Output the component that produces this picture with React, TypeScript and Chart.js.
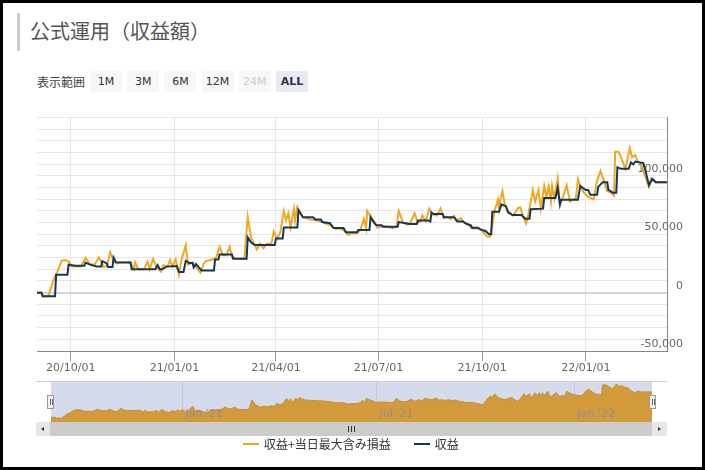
import React, { useEffect, useRef } from 'react';
import { Chart, registerables } from 'chart.js';

Chart.register(...registerables);

// ---- data ----
const seriesNames = ['収益+当日最大含み損益', '収益'];

const profitDates = [
  '2020-09-01', '2020-09-05', '2020-09-06', '2020-09-17', '2020-09-18', '2020-09-28', '2020-09-29', '2020-10-05',
  '2020-10-13', '2020-10-14', '2020-10-18', '2020-10-24', '2020-10-28', '2020-10-29', '2020-11-02', '2020-11-03',
  '2020-11-07', '2020-11-08', '2020-11-10', '2020-11-23', '2020-11-24', '2020-12-15', '2020-12-17', '2020-12-19',
  '2020-12-21', '2020-12-25', '2021-01-03', '2021-01-05', '2021-01-09', '2021-01-11', '2021-01-14', '2021-01-17',
  '2021-01-18', '2021-01-20', '2021-01-22', '2021-01-25', '2021-02-05', '2021-02-06', '2021-02-09', '2021-02-10',
  '2021-02-21', '2021-02-22', '2021-03-06', '2021-03-07', '2021-03-10', '2021-03-13', '2021-03-16', '2021-03-31',
  '2021-04-01', '2021-04-07', '2021-04-08', '2021-04-20', '2021-04-21', '2021-04-25', '2021-05-04', '2021-05-06',
  '2021-05-11', '2021-05-12', '2021-05-19', '2021-05-22', '2021-05-31', '2021-06-02', '2021-06-12', '2021-06-13',
  '2021-06-23', '2021-06-24', '2021-06-27', '2021-06-29', '2021-07-04', '2021-07-05', '2021-07-18', '2021-07-19',
  '2021-07-29', '2021-08-04', '2021-08-05', '2021-08-14', '2021-08-16', '2021-08-17', '2021-08-19', '2021-08-27',
  '2021-08-28', '2021-09-06', '2021-09-07', '2021-09-09', '2021-09-14', '2021-09-17', '2021-09-21', '2021-09-22',
  '2021-09-27', '2021-09-30', '2021-10-04', '2021-10-07', '2021-10-09', '2021-10-10', '2021-10-16', '2021-10-18',
  '2021-10-22', '2021-10-24', '2021-10-28', '2021-11-05', '2021-11-08', '2021-11-12', '2021-11-13', '2021-11-24',
  '2021-11-25', '2021-12-05', '2021-12-07', '2021-12-09', '2021-12-10', '2021-12-25', '2021-12-27', '2022-01-01',
  '2022-01-03', '2022-01-05', '2022-01-11', '2022-01-12', '2022-01-16', '2022-01-20', '2022-01-21', '2022-01-25',
  '2022-01-28', '2022-01-29', '2022-02-01', '2022-02-08', '2022-02-10', '2022-02-12', '2022-02-14', '2022-02-21',
  '2022-02-23', '2022-02-26', '2022-03-01', '2022-03-04', '2022-03-14',
];
const profitValues = [
  0, 0, -3000, -3000, 15400, 15400, 24000, 23000,
  23000, 25800, 24000, 22500, 22500, 27000, 25000, 22000,
  22000, 30000, 26000, 25800, 20000, 20000, 23600, 20000,
  20000, 22300, 22800, 17600, 17600, 27200, 25500, 25500,
  21700, 24500, 22300, 19000, 19000, 28300, 28300, 32600,
  32600, 29000, 29000, 47400, 43000, 41000, 40800, 40800,
  46300, 46300, 55900, 55900, 70600, 64600, 64600, 62700,
  62700, 60500, 59500, 55300, 55300, 51800, 51800, 53700,
  53700, 64600, 60000, 57800, 57800, 56400, 56400, 60500,
  58900, 58900, 61900, 61900, 61000, 68700, 67400, 67400,
  64600, 64600, 63500, 61000, 61000, 59000, 57800, 55600,
  55600, 54000, 52900, 50100, 50100, 69300, 69300, 75600,
  74000, 68700, 66500, 66500, 63300, 63300, 71500, 72000,
  81000, 81000, 89800, 75600, 79700, 79700, 91400, 88000,
  88000, 83800, 83800, 90600, 94700, 94700, 88000, 85700,
  85700, 107500, 106100, 106100, 111600, 110000, 112400, 111000,
  104000, 92000, 97400, 94700, 94700,
];

const totalDates = [
  '2020-09-01', '2020-09-05', '2020-09-06', '2020-09-11', '2020-09-16', '2020-09-19', '2020-09-23', '2020-09-26',
  '2020-09-29', '2020-10-02', '2020-10-10', '2020-10-14', '2020-10-18', '2020-10-22', '2020-10-26', '2020-10-30',
  '2020-11-02', '2020-11-05', '2020-11-08', '2020-11-11', '2020-11-16', '2020-11-23', '2020-11-26', '2020-11-27',
  '2020-11-30', '2020-12-05', '2020-12-08', '2020-12-10', '2020-12-13', '2020-12-16', '2020-12-20', '2020-12-22',
  '2020-12-26', '2020-12-28', '2020-12-30', '2021-01-02', '2021-01-05', '2021-01-07', '2021-01-11', '2021-01-13',
  '2021-01-17', '2021-01-20', '2021-01-24', '2021-01-27', '2021-01-29', '2021-02-02', '2021-02-05', '2021-02-07',
  '2021-02-10', '2021-02-13', '2021-02-16', '2021-02-19', '2021-02-21', '2021-02-25', '2021-03-04', '2021-03-07',
  '2021-03-10', '2021-03-13', '2021-03-15', '2021-03-18', '2021-03-21', '2021-03-24', '2021-03-28', '2021-03-30',
  '2021-04-02', '2021-04-05', '2021-04-08', '2021-04-10', '2021-04-12', '2021-04-14', '2021-04-17', '2021-04-18',
  '2021-04-20', '2021-04-23', '2021-04-25', '2021-04-30', '2021-05-06', '2021-05-11', '2021-05-15', '2021-05-19',
  '2021-05-24', '2021-05-28', '2021-06-01', '2021-06-04', '2021-06-08', '2021-06-12', '2021-06-15', '2021-06-18',
  '2021-06-20', '2021-06-21', '2021-06-25', '2021-06-28', '2021-06-30', '2021-07-05', '2021-07-10', '2021-07-14',
  '2021-07-17', '2021-07-19', '2021-07-22', '2021-07-23', '2021-07-27', '2021-07-29', '2021-08-02', '2021-08-05',
  '2021-08-07', '2021-08-09', '2021-08-12', '2021-08-15', '2021-08-18', '2021-08-22', '2021-08-25', '2021-08-28',
  '2021-08-31', '2021-09-03', '2021-09-06', '2021-09-08', '2021-09-12', '2021-09-15', '2021-09-19', '2021-09-22',
  '2021-09-28', '2021-10-01', '2021-10-05', '2021-10-08', '2021-10-10', '2021-10-12', '2021-10-15', '2021-10-16',
  '2021-10-17', '2021-10-19', '2021-10-21', '2021-10-24', '2021-10-28', '2021-10-30', '2021-11-02', '2021-11-04',
  '2021-11-06', '2021-11-09', '2021-11-11', '2021-11-15', '2021-11-17', '2021-11-20', '2021-11-22', '2021-11-25',
  '2021-11-27', '2021-11-29', '2021-12-01', '2021-12-02', '2021-12-04', '2021-12-07', '2021-12-09', '2021-12-11',
  '2021-12-15', '2021-12-18', '2021-12-21', '2021-12-23', '2021-12-25', '2021-12-27', '2021-12-30', '2022-01-03',
  '2022-01-08', '2022-01-11', '2022-01-14', '2022-01-17', '2022-01-20', '2022-01-23', '2022-01-26', '2022-01-27',
  '2022-01-30', '2022-02-02', '2022-02-05', '2022-02-09', '2022-02-11', '2022-02-14', '2022-02-16', '2022-02-19',
  '2022-02-21', '2022-02-26', '2022-02-28', '2022-03-04', '2022-03-14',
];
const totalValues = [
  0, 0, -3000, -3000, 12000, 18000, 27400, 28000,
  26800, 22500, 22500, 30000, 24500, 24000, 30000, 22000,
  23000, 34800, 27000, 25000, 25800, 25800, 20000, 26000,
  20000, 20000, 26500, 20000, 29000, 22000, 18000, 23600,
  22500, 28000, 22500, 28500, 15400, 27000, 40800, 24000,
  26000, 22000, 17000, 25000, 27000, 28000, 29000, 30000,
  39200, 32000, 32000, 39200, 31000, 29000, 29000, 65200,
  47000, 41000, 37000, 42000, 38000, 42000, 42000, 52300,
  46000, 52000, 70000, 62000, 68000, 56000, 71700, 62000,
  73600, 68000, 64600, 63000, 62000, 61000, 59500, 58000,
  54500, 55000, 53000, 49600, 51000, 51000, 54000, 63300,
  55000, 70000, 64000, 60000, 55500, 57000, 56500, 55000,
  57000, 70000, 62000, 60000, 58000, 59000, 68000, 60000,
  61000, 66000, 61000, 72000, 67000, 66000, 72000, 64000,
  65000, 63000, 66000, 62000, 64000, 60000, 58000, 55000,
  55000, 53000, 48200, 48000, 58000, 70000, 79700, 72000,
  79000, 87000, 76000, 70000, 66000, 68000, 72800, 73000,
  66000, 59200, 67000, 87900, 78000, 88000, 72000, 91400,
  82000, 91000, 78000, 91400, 81000, 98000, 75600, 80000,
  92000, 78000, 80000, 80000, 97400, 91400, 86000, 82000,
  80000, 96000, 104300, 96000, 87000, 86000, 83000, 120700,
  120700, 114000, 106000, 124000, 116000, 117900, 112000, 111000,
  104000, 90600, 98000, 94700, 94700,
];

const xTickDates = ['2020-10-01', '2021-01-01', '2021-04-01', '2021-07-01', '2021-10-01', '2022-01-01'];
const xTickLabels = ['20/10/01', '21/01/01', '21/04/01', '21/07/01', '21/10/01', '22/01/01'];
const navTickDates = ['2021-01-01', '2021-07-01', '2022-01-01'];
const navTickLabels = ["Jan '21", "Jul '21", "Jan '22"];
const yLabelValues = [-50000, 0, 50000, 100000];
const yMin = -50000;
const yMax = 150000;
const yStep = 10000;
const rangeButtons = ['1M', '3M', '6M', '12M', '24M', 'ALL'];

// ---- styles ----
const ORANGE = '#F0A722';
const NAVY = '#15375A';
const AXIS_FONT = "'DejaVu Sans', Verdana, sans-serif";
const JP_FONT = "'Noto Sans CJK JP', 'Noto Sans', sans-serif";

const EPOCH = Date.UTC(2020, 8, 1);
const toDay = (s: string) => {
  const [y, m, d] = s.split('-').map(Number);
  return (Date.UTC(y, m - 1, d) - EPOCH) / 86400000;
};

export default function App() {
  const mainRef = useRef<HTMLCanvasElement>(null);
  const navRef = useRef<HTMLCanvasElement>(null);

  useEffect(() => {
    const prof = profitDates.map((d, i) => ({ x: toDay(d), y: profitValues[i] }));
    const tot = totalDates.map((d, i) => ({ x: toDay(d), y: totalValues[i] }));
    const xmin = Math.min(toDay(totalDates[0]), toDay(profitDates[0]));
    const xmax = Math.max(toDay(totalDates[totalDates.length - 1]), toDay(profitDates[profitDates.length - 1]));

    const main = new Chart(mainRef.current!, {
      type: 'line',
      data: {
        datasets: [
          { label: seriesNames[0], data: tot, borderColor: ORANGE, borderWidth: 2, pointRadius: 0, tension: 0, order: 2 },
          { label: seriesNames[1], data: prof, borderColor: NAVY, borderWidth: 2, pointRadius: 0, tension: 0, order: 1 },
        ],
      },
      options: {
        animation: false,
        responsive: false,
        devicePixelRatio: 1,
        layout: { padding: { left: 37, top: 11, right: 0, bottom: 0 } },
        plugins: { legend: { display: false }, tooltip: { enabled: false } },
        scales: {
          x: {
            type: 'linear',
            min: xmin,
            max: xmax,
            afterBuildTicks: (s: any) => { s.ticks = xTickDates.map((d) => ({ value: toDay(d) })); },
            afterFit: (s: any) => { s.height = 29; },
            grid: { color: '#e6e6e6', tickColor: '#999', tickLength: 10, drawTicks: true },
            border: { color: '#888' },
            ticks: {
              autoSkip: false, maxRotation: 0, minRotation: 0, padding: 1, color: '#666',
              font: { family: AXIS_FONT, size: 11 },
              callback: (v: any) => {
                const i = xTickDates.findIndex((d) => toDay(d) === v);
                return i >= 0 ? xTickLabels[i] : '';
              },
            },
          },
          y: {
            position: 'right',
            min: yMin,
            max: yMax,
            afterFit: (s: any) => { s.width = 38; },
            grid: {
              drawTicks: false,
              color: (c: any) => (c.tick && c.tick.value === 0 ? '#d6d6d6' : '#e6e6e6'),
              lineWidth: (c: any) => (c.tick && c.tick.value === 0 ? 2 : 1),
            },
            border: { color: '#888' },
            ticks: {
              stepSize: yStep, maxTicksLimit: 40, autoSkip: false,
              mirror: true, padding: 16, labelOffset: -7, color: '#666',
              font: { family: AXIS_FONT, size: 11 },
              callback: (v: any) => (yLabelValues.includes(v) ? Number(v).toLocaleString('en-US') : ''),
            },
          },
        },
      },
    } as any);

    const navBg = {
      id: 'navBg',
      beforeDraw(chart: any) {
        const { ctx, chartArea: a } = chart;
        ctx.save();
        ctx.fillStyle = '#D3DBED';
        ctx.fillRect(a.left, a.top, a.right - a.left, a.bottom - a.top);
        ctx.restore();
      },
      afterDraw(chart: any) {
        const { ctx, chartArea: a } = chart;
        const xs = chart.scales.x;
        ctx.save();
        ctx.fillStyle = '#8E8C9A';
        ctx.font = `11px ${AXIS_FONT}`;
        ctx.textAlign = 'left';
        ctx.textBaseline = 'middle';
        navTickDates.forEach((d, i) => {
          ctx.fillText(navTickLabels[i], xs.getPixelForValue(toDay(d)) + 3, a.bottom - 8);
        });
        ctx.restore();
      },
    };

    const nav = new Chart(navRef.current!, {
      type: 'line',
      data: {
        datasets: [
          {
            label: seriesNames[0], data: tot, borderColor: '#C98F33', backgroundColor: '#D39A3C',
            borderWidth: 1, pointRadius: 0, tension: 0, fill: 'start',
          },
        ],
      },
      options: {
        animation: false,
        responsive: false,
        devicePixelRatio: 1,
        layout: { padding: { left: 15, top: 1, right: 15, bottom: 0 } },
        plugins: { legend: { display: false }, tooltip: { enabled: false } },
        scales: {
          x: {
            type: 'linear', min: xmin, max: xmax,
            afterBuildTicks: (s: any) => { s.ticks = navTickDates.map((d) => ({ value: toDay(d) })); },
            afterFit: (s: any) => { s.height = 0; },
            grid: { color: '#C0C8DA', drawTicks: false },
            border: { display: false },
            ticks: { display: false },
          },
          y: { display: false, min: -17500, max: 131500 },
        },
      },
      plugins: [navBg],
    } as any);

    return () => { main.destroy(); nav.destroy(); };
  }, []);

  const abs = (l: number, t: number, w: number, h: number, extra: any = {}) => ({
    position: 'absolute' as const, left: l, top: t, width: w, height: h, ...extra,
  });

  return (
    <div style={{ position: 'fixed', left: 0, top: 0, width: 705, height: 470, background: '#fff', overflow: 'hidden' }}>
      {/* title */}
      <div style={abs(17, 13, 3, 38, { background: '#cccccc' })} />
      <div style={abs(30, 12, 300, 38, { fontFamily: JP_FONT, fontSize: 20, lineHeight: '38px', color: '#555', whiteSpace: 'nowrap' })}>
        公式運用（収益額）
      </div>

      {/* range selector */}
      <div style={abs(37, 71, 60, 21, { fontFamily: JP_FONT, fontSize: 12, lineHeight: '21px', color: '#444' })}>表示範囲</div>
      {rangeButtons.map((b, i) => {
        const disabled = b === '24M';
        const selected = b === 'ALL';
        return (
          <div key={b} style={abs(90 + i * 37.2, 71, 32, 21, {
            background: selected ? '#E6EBF5' : '#F7F7F7', borderRadius: 2,
            fontFamily: AXIS_FONT, fontSize: 11, lineHeight: '21px', textAlign: 'center',
            color: disabled ? '#cccccc' : '#333', fontWeight: selected ? 'bold' : 'normal',
          })}>{b}</div>
        );
      })}

      {/* main chart */}
      <canvas ref={mainRef} width={705} height={285} style={abs(0, 95, 705, 285)} />

      {/* navigator */}
      <canvas ref={navRef} width={631} height={41} style={abs(36, 381, 631, 41)} />
      <div style={abs(36, 381, 631, 1, { background: '#cccccc' })} />
      {/* handles */}
      {[47, 649].map((l) => (
        <div key={l} style={abs(l, 395, 7, 14, { background: '#f2f2f2', border: '1px solid #999', boxSizing: 'border-box' })}>
          <div style={abs(1.5, 3, 1, 6, { background: '#666' })} />
          <div style={abs(3.5, 3, 1, 6, { background: '#666' })} />
        </div>
      ))}

      {/* scrollbar */}
      <div style={abs(36, 422, 631, 14, { background: '#f2f2f2' })} />
      <div style={abs(36, 422, 14, 14, { background: '#e6e6e6' })} />
      <div style={abs(652, 422, 15, 14, { background: '#e6e6e6' })} />
      <div style={abs(50, 422, 602, 14, { background: '#cccccc' })} />
      <div style={abs(41, 426.5, 0, 0, { borderTop: '2.5px solid transparent', borderBottom: '2.5px solid transparent', borderRight: '3px solid #333' })} />
      <div style={abs(658, 426.5, 0, 0, { borderTop: '2.5px solid transparent', borderBottom: '2.5px solid transparent', borderLeft: '3px solid #333' })} />
      {[348, 351, 354].map((l) => (
        <div key={l} style={abs(l, 426, 1, 6, { background: '#333' })} />
      ))}

      {/* legend */}
      <div style={abs(243, 435, 300, 17, { display: 'flex', alignItems: 'center', fontFamily: JP_FONT, fontSize: 12, color: '#333', whiteSpace: 'nowrap' })}>
        <div style={{ width: 16, height: 2, background: ORANGE, marginRight: 5 }} />
        <span>{seriesNames[0]}</span>
        <div style={{ width: 16, height: 2, background: NAVY, marginLeft: 23, marginRight: 5 }} />
        <span>{seriesNames[1]}</span>
      </div>

      {/* outer frame */}
      <div style={abs(0, 0, 705, 470, { border: '3px solid #000', boxSizing: 'border-box', pointerEvents: 'none' })} />
    </div>
  );
}
